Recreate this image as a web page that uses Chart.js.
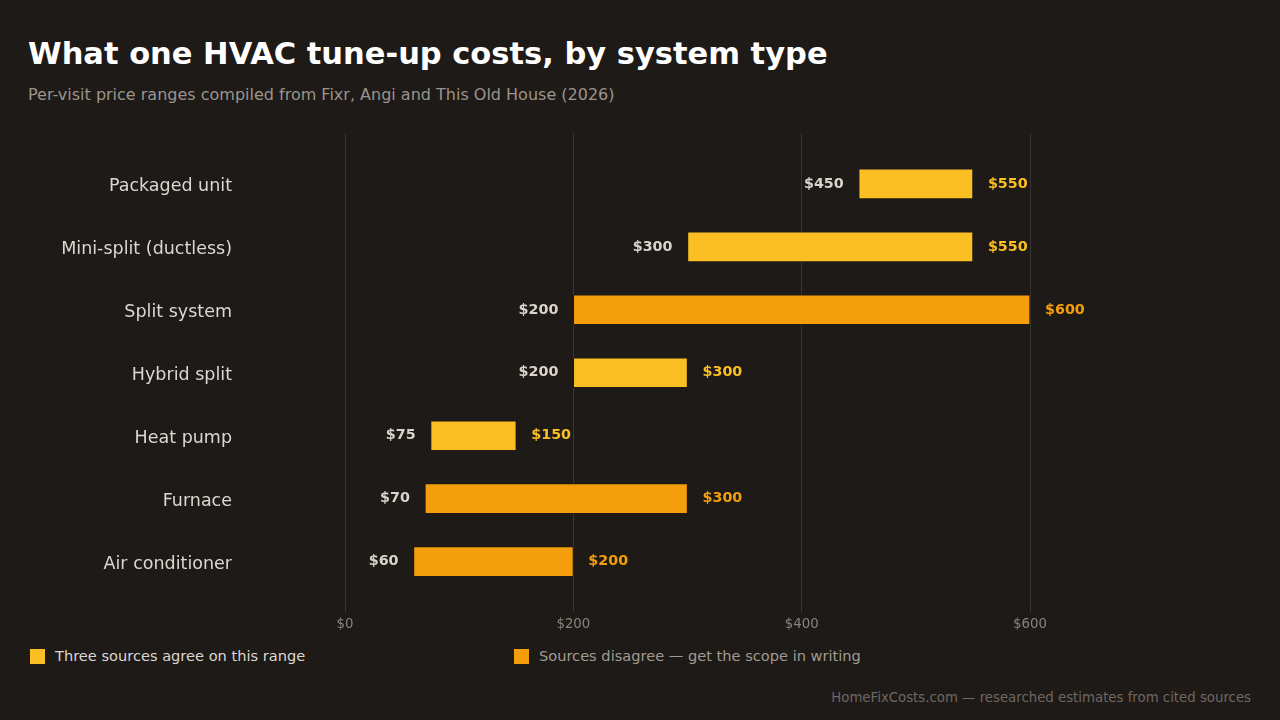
<!DOCTYPE html>
<html lang="en">
<head>
    <meta charset="UTF-8">
    <title>HVAC tune-up costs</title>
    <script src="https://cdn.jsdelivr.net/npm/chart.js"></script>
    <style>
        body {
            margin: 0;
            width: 1280px;
            height: 720px;
            background-color: #1e1a17;
            font-family: "DejaVu Sans", sans-serif;
            position: relative;
            overflow: hidden;
        }

        h1 {
            position: absolute;
            left: 28px;
            top: 35px;
            margin: 0;
            font-size: 30.5px;
            font-weight: bold;
            color: #ffffff;
            line-height: 38px;
        }

        .subtitle {
            position: absolute;
            left: 28px;
            top: 85px;
            font-size: 16px;
            color: #9b948d;
        }

        .chart-box {
            position: absolute;
            left: 0;
            top: 115px;
            width: 1280px;
            height: 525px;
        }

        .legend-item {
            position: absolute;
            top: 647px;
            font-size: 14.6px;
            line-height: 18px;
        }

        .legend-item span {
            display: inline-block;
            width: 15px;
            height: 15px;
            vertical-align: -3px;
            margin-right: 10px;
        }

        .footer {
            position: absolute;
            right: 29px;
            top: 690px;
            font-size: 13.3px;
            color: #6e6862;
        }
    </style>
</head>
<body>

    <h1>What one HVAC tune-up costs, by system type</h1>
    <div class="subtitle">Per-visit price ranges compiled from Fixr, Angi and This Old House (2026)</div>

    <div class="chart-box">
        <canvas id="costChart"></canvas>
    </div>

    <div class="legend-item" style="left: 30px; color: #ddd7d1;"><span style="background: #fbbf24;"></span>Three sources agree on this range</div>
    <div class="legend-item" style="left: 514px; color: #a19a93;"><span style="background: #f59e0b;"></span>Sources disagree — get the scope in writing</div>

    <div class="footer">HomeFixCosts.com — researched estimates from cited sources</div>

    <script>
        // top to bottom
        const systems = ['Packaged unit', 'Mini-split (ductless)', 'Split system', 'Hybrid split', 'Heat pump', 'Furnace', 'Air conditioner'];
        const lowPrice = [450, 300, 200, 200, 75, 70, 60];
        const highPrice = [550, 550, 600, 300, 150, 300, 200];
        const sourcesAgree = [true, true, false, true, true, false, false];
        const xTicks = [0, 200, 400, 600];

        const AGREE = '#fbbf24';
        const DISAGREE = '#f59e0b';
        const BG = '#1e1a17';

        const barColors = sourcesAgree.map(a => a ? AGREE : DISAGREE);

        // $ labels at both ends of each range
        const rangeLabels = {
            id: 'rangeLabels',
            afterDatasetsDraw(chart) {
                const ctx = chart.ctx;
                const xs = chart.scales.x;
                const ys = chart.scales.y;
                ctx.save();
                ctx.font = 'bold 14.3px "DejaVu Sans"';
                ctx.textBaseline = 'middle';
                systems.forEach((name, i) => {
                    const y = ys.getPixelForValue(i);
                    ctx.fillStyle = '#d9d3cc';
                    ctx.textAlign = 'right';
                    ctx.fillText('$' + lowPrice[i], xs.getPixelForValue(lowPrice[i]) - 15, y);
                    ctx.fillStyle = barColors[i];
                    ctx.textAlign = 'left';
                    ctx.fillText('$' + highPrice[i], xs.getPixelForValue(highPrice[i]) + 15, y);
                });
                ctx.restore();
            }
        };

        const ctx = document.getElementById('costChart').getContext('2d');

        new Chart(ctx, {
            type: 'bar',
            data: {
                datasets: [{
                    data: systems.map((s, i) => ({ x: [lowPrice[i], highPrice[i]], y: i })),
                    backgroundColor: barColors,
                    borderColor: BG,
                    borderWidth: 1,
                    borderSkipped: false,
                    barThickness: 30
                }]
            },
            options: {
                indexAxis: 'y',
                responsive: true,
                maintainAspectRatio: false,
                animation: false,
                layout: {
                    padding: { top: 8, right: 44.5, left: 0, bottom: 0 }
                },
                plugins: {
                    legend: { display: false },
                    tooltip: { enabled: false }
                },
                scales: {
                    x: {
                        type: 'linear',
                        min: -92,
                        max: 780,
                        afterBuildTicks: scale => {
                            scale.ticks = xTicks.map(v => ({ value: v }));
                        },
                        afterFit: scale => { scale.height = 28; },
                        grid: {
                            color: '#3a3531',
                            lineWidth: 1,
                            drawTicks: false
                        },
                        border: { display: false },
                        ticks: {
                            padding: 5,
                            color: '#8a837c',
                            font: { family: 'DejaVu Sans', size: 13.3 },
                            callback: v => '$' + v
                        }
                    },
                    y: {
                        type: 'linear',
                        reverse: true,
                        offset: false,
                        min: -0.8,
                        max: 6.8,
                        afterBuildTicks: scale => {
                            scale.ticks = systems.map((s, i) => ({ value: i }));
                        },
                        afterFit: scale => { scale.width = 240; },
                        grid: { display: false, drawTicks: false, offset: false },
                        border: { display: false },
                        ticks: {
                            autoSkip: false,
                            padding: 8,
                            labelOffset: 3,
                            color: '#ddd7d1',
                            font: { family: 'DejaVu Sans', size: 17.5 },
                            callback: v => systems[v] ?? ''
                        }
                    }
                }
            },
            plugins: [rangeLabels]
        });
    </script>

</body>
</html>
